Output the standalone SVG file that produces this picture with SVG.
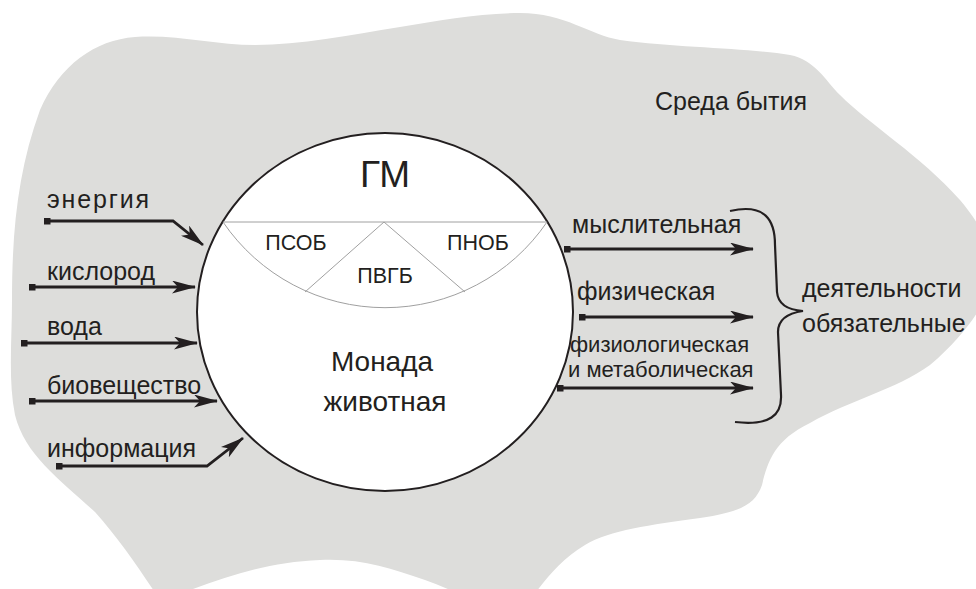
<svg xmlns="http://www.w3.org/2000/svg" width="976" height="589" viewBox="0 0 976 589">
<style>
text{font-family:"Liberation Sans",Arial,sans-serif;fill:#231f20}
.lbl{font-size:25px}
.sm{font-size:22px}
.seg{font-size:21.5px}
.big{font-size:28px}
.conn{fill:none;stroke:#231f20;stroke-width:2.8;stroke-linejoin:miter}
.thin{fill:none;stroke:#a0a0a0;stroke-width:1}
</style>
<defs>
<marker id="ah" markerUnits="userSpaceOnUse" viewBox="0 0 24 13" refX="23" refY="6.5" markerWidth="24" markerHeight="13" orient="auto">
<path d="M0,0 L24,6.5 L0,13 L6,6.5 Z" fill="#231f20"/>
</marker>
<marker id="sq" markerUnits="userSpaceOnUse" viewBox="0 0 7 7" refX="3.5" refY="3.5" markerWidth="7" markerHeight="7" orient="auto">
<rect x="0" y="0" width="7" height="7" fill="#231f20"/>
</marker>
</defs>
<g id="environment">
<path d="M12,300 C12,230 18,170 40,110 C60,65 95,40 135,37 C175,34 215,45 255,45 C300,45 350,35 400,27 C440,20 480,13 520,13 C565,13 590,35 620,40 C680,48 750,48 790,55 C815,60 825,80 840,95 C870,125 920,155 960,200 C985,230 1000,260 990,290 C980,310 965,335 930,365 C895,390 850,400 810,423 C775,440 768,460 762,485 C755,505 740,512 700,518 C650,525 610,530 585,545 C560,560 545,580 530,600 L470,600 C455,592 440,585 425,580 C390,568 360,558 320,560 C270,562 230,575 185,592 L160,600 C140,570 120,540 95,512 C60,480 25,455 15,415 C8,380 12,340 12,300 Z" fill="#dddddb"/>
<text class="lbl" x="655" y="110">Среда бытия</text>
</g>
<g id="monad">
<ellipse cx="385" cy="312" rx="188" ry="179" fill="#ffffff" stroke="#231f20" stroke-width="2"/>
<line class="thin" x1="223" y1="222" x2="547" y2="222"/>
<path class="thin" d="M223,222 A196,196 0 0 0 547,222"/>
<path class="thin" d="M305,292 L384,222 L465,292"/>
<text x="385" y="187" text-anchor="middle" style="font-size:37px">ГМ</text>
<text class="seg" x="296" y="250" text-anchor="middle">ПСОБ</text>
<text class="seg" x="478" y="250" text-anchor="middle">ПНОБ</text>
<text class="seg" x="385" y="283" text-anchor="middle">ПВГБ</text>
<text class="big" x="382" y="371" text-anchor="middle">Монада</text>
<text class="big" x="385" y="411" text-anchor="middle">животная</text>
</g>
<g id="inputs-labels">
<text class="lbl" x="47" y="208" textLength="102" lengthAdjust="spacing">энергия</text>
<text class="lbl" x="47" y="280">кислород</text>
<text class="lbl" x="47" y="335">вода</text>
<text class="lbl" x="47" y="394">биовещество</text>
<text class="lbl" x="47" y="457">информация</text>
</g>
<g id="outputs-labels">
<text class="lbl" x="572" y="233">мыслительная</text>
<text class="lbl" x="577" y="300">физическая</text>
<text class="sm" x="570" y="352">физиологическая</text>
<text class="sm" x="568" y="377">и метаболическая</text>
</g>
<g id="activities">
<path d="M730,211 C765,203 775,220 775,245 L777,292 C778,304 788,310 803,311 C789,313 778,318 778,332 L781,395 C782,415 770,426 735,422" fill="none" stroke="#231f20" stroke-width="2.2"/>
<text class="lbl" x="802" y="297">деятельности</text>
<text class="lbl" x="802" y="332">обязательные</text>
</g>
<g id="connectors">
<path class="conn" d="M47,221 L173,221 L203,245" marker-start="url(#sq)" marker-end="url(#ah)"/>
<path class="conn" d="M32,287 L195,287" marker-start="url(#sq)" marker-end="url(#ah)"/>
<path class="conn" d="M24,343 L197,343" marker-start="url(#sq)" marker-end="url(#ah)"/>
<path class="conn" d="M32,401 L217,401" marker-start="url(#sq)" marker-end="url(#ah)"/>
<path class="conn" d="M59,466 L207,466 L243,438" marker-start="url(#sq)" marker-end="url(#ah)"/>
<path class="conn" d="M567,249 L753,249" marker-start="url(#sq)" marker-end="url(#ah)"/>
<path class="conn" d="M582,317 L753,317" marker-start="url(#sq)" marker-end="url(#ah)"/>
<path class="conn" d="M560,388 L753,388" marker-start="url(#sq)" marker-end="url(#ah)"/>
</g>
</svg>
